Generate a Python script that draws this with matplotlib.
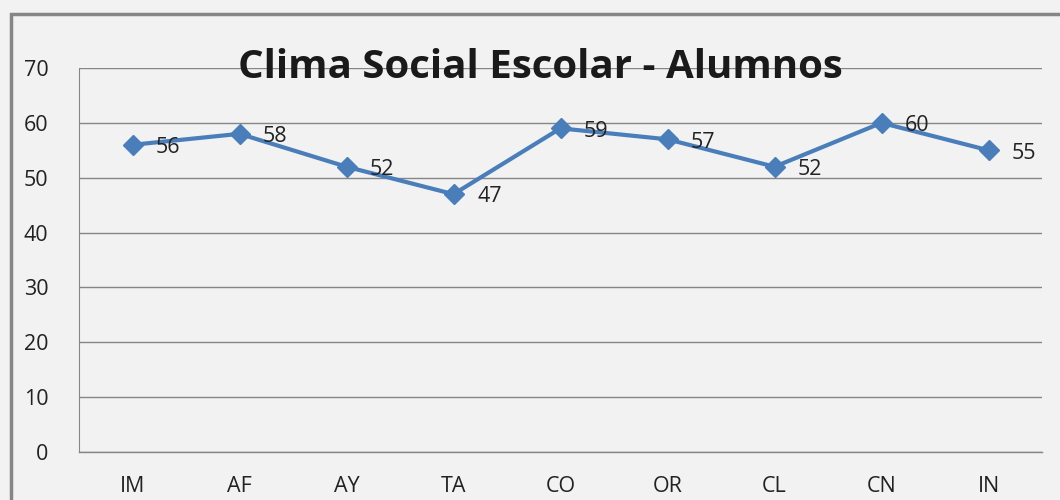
import matplotlib.pyplot as plt
from matplotlib.patches import Rectangle

# datos
categorias = ["IM", "AF", "AY", "TA", "CO", "OR", "CL", "CN", "IN"]
valores = [56, 58, 52, 47, 59, 57, 52, 60, 55]
yticks = [0, 10, 20, 30, 40, 50, 60, 70]

W, H = 1060, 500
fig = plt.figure(figsize=(W / 100, H / 100), dpi=100, facecolor="#f2f2f2")
ax = fig.add_axes([79 / W, 1 - 452 / H, (1042 - 79) / W, (452 - 68) / H])
ax.set_facecolor("#f2f2f2")

# marco del grafico (recortado a la derecha y abajo)
fig.patches.append(Rectangle((11 / W, -0.1), 1.2, 1 - 14 / H + 0.1, transform=fig.transFigure,
                             fill=False, edgecolor="#868686", linewidth=2.5))

x = range(len(categorias))
ax.plot(x, valores, color="#4a7ebb", linewidth=3, marker="D", markersize=10, zorder=3)
for xi, v in zip(x, valores):
    ax.annotate(str(v), xy=(xi, v), xytext=(17, -2), textcoords="offset points",
                ha="left", va="center", fontsize=15.5, color="#222222", family="Open Sans")

ax.set_xlim(-0.5, len(categorias) - 0.5)
ax.set_ylim(0, 70)
ax.set_yticks(yticks)
ax.set_xticks(list(x))
ax.set_xticklabels(categorias)
ax.grid(axis="y", color="#868686", linewidth=1)
ax.axhline(0, color="#868686", linewidth=1, clip_on=False, zorder=1)
ax.set_axisbelow(True)
for s in ["top", "right", "bottom"]:
    ax.spines[s].set_visible(False)
ax.spines["left"].set_color("#868686")
ax.tick_params(axis="both", length=0, labelsize=15.5, colors="#222222")
ax.tick_params(axis="y", pad=22)
ax.tick_params(axis="x", pad=17)
for lab in ax.get_xticklabels() + ax.get_yticklabels():
    lab.set_family("Open Sans")

fig.text(540 / W, 1 - 67 / H, "Clima Social Escolar - Alumnos", ha="center", va="center",
         fontsize=29, fontweight="bold", family="Open Sans", color="#1a1a1a")

fig.savefig("out.png", dpi=100, facecolor=fig.get_facecolor())
